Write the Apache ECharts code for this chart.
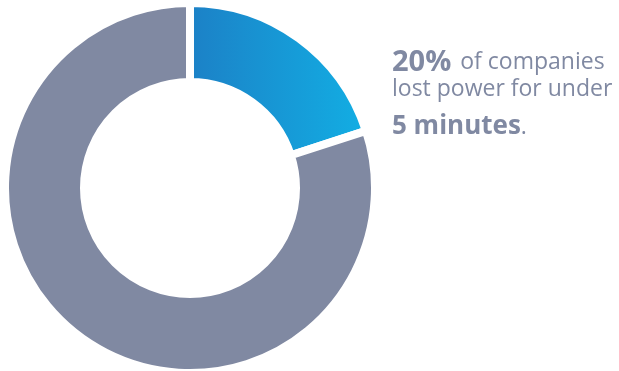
<!DOCTYPE html>
<html>
<head>
<meta charset="utf-8">
<script src="https://cdn.jsdelivr.net/npm/echarts@6/dist/echarts.min.js"></script>
<style>
  html, body { margin: 0; padding: 0; background: #fff; }
  #chart { width: 619px; height: 371px; }
</style>
</head>
<body>
<div id="chart"></div>
<script>
// share of companies by outage length
var categories = ['Under 5 minutes', 'Longer']
var shares = [20, 80]
var headline = '20%'
var captionLines = ['of companies', 'lost power for under']
var highlight = '5 minutes'

var chart = echarts.init(document.getElementById('chart'))

var textColor = '#8089a2'
var font = 'Open Sans'

chart.setOption({
  animation: false,
  series: [{
    type: 'pie',
    center: [190, 188],
    radius: [106, 185],
    startAngle: 90,
    clockwise: true,
    label: { show: false },
    labelLine: { show: false },
    emphasis: { disabled: true },
    itemStyle: {
      borderColor: '#fff',
      borderWidth: 8
    },
    data: [
      {
        name: categories[0],
        value: shares[0],
        itemStyle: {
          color: new echarts.graphic.LinearGradient(0, 0, 1, 0, [
            { offset: 0, color: '#1c80c6' },
            { offset: 1, color: '#12afe4' }
          ])
        }
      },
      {
        name: categories[1],
        value: shares[1],
        itemStyle: { color: '#8089a2' }
      }
    ]
  }],
  graphic: [
    {
      type: 'text',
      left: 392,
      top: 48,
      style: {
        text: '{b|' + headline + '}{r|' + captionLines[0] + '}',
        rich: {
          b: { fontFamily: font, fontWeight: 'bold', fontSize: 29, fill: textColor },
          r: { fontFamily: font, fontSize: 23, fill: textColor, padding: [0, 0, 0, 9] }
        }
      }
    },
    {
      type: 'text',
      left: 392,
      top: 78,
      style: {
        text: captionLines[1],
        fontFamily: font,
        fontSize: 23,
        fill: textColor
      }
    },
    {
      type: 'text',
      left: 392,
      top: 114,
      style: {
        text: '{b|' + highlight + '}{r|.}',
        rich: {
          b: { fontFamily: font, fontWeight: 'bold', fontSize: 26, fill: textColor },
          r: { fontFamily: font, fontSize: 23, fill: textColor }
        }
      }
    }
  ]
})
</script>
</body>
</html>
